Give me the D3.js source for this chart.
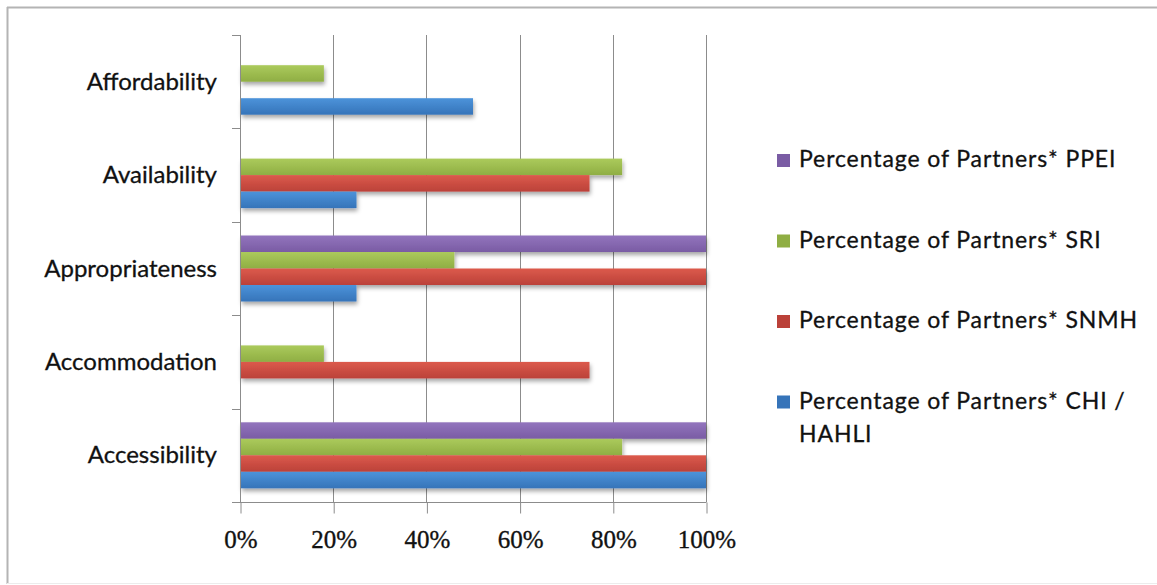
<!DOCTYPE html>
<html>
<head>
<meta charset="utf-8">
<script src="https://cdn.jsdelivr.net/npm/d3@7"></script>
<style>
  html, body { margin: 0; padding: 0; background: #fff; }
  svg { display: block; }
</style>
</head>
<body>
<svg id="chart" width="1157" height="585"></svg>
<script>
// Dimensions of access: categories listed top to bottom
const categories = ["Affordability", "Availability", "Appropriateness", "Accommodation", "Accessibility"];

// Series, in stacking order inside each category group (top to bottom)
const seriesNames = [
  "Percentage of Partners* PPEI",
  "Percentage of Partners* SRI",
  "Percentage of Partners* SNMH",
  "Percentage of Partners* CHI / HAHLI"
];

// Percent values per series, in the same order as categories
const ppeiValues = [0, 0, 100, 0, 100];
const sriValues  = [18, 82, 46, 18, 82];
const snmhValues = [0, 75, 100, 75, 100];
const chiValues  = [50, 25, 25, 0, 100];

const xTicks = [0, 20, 40, 60, 80, 100];

const seriesValues = [ppeiValues, sriValues, snmhValues, chiValues];
const seriesColors = [
  ["#9274bd", "#7a5ca4"],
  ["#abca5c", "#8fae43"],
  ["#dc5a4c", "#bb4139"],
  ["#4c93da", "#3674b9"]
];

const svg = d3.select("#chart");
const defs = svg.append("defs");

seriesColors.forEach((c, i) => {
  const g = defs.append("linearGradient")
    .attr("id", "grad" + i).attr("x1", 0).attr("y1", 0).attr("x2", 0).attr("y2", 1);
  g.append("stop").attr("offset", "0%").attr("stop-color", c[0]);
  g.append("stop").attr("offset", "100%").attr("stop-color", c[1]);
});

const shadow = defs.append("filter").attr("id", "barShadow")
  .attr("x", "-5%").attr("y", "-30%").attr("width", "110%").attr("height", "190%");
shadow.append("feDropShadow")
  .attr("dx", 1).attr("dy", 3).attr("stdDeviation", 2)
  .attr("flood-color", "#000").attr("flood-opacity", 0.35);

// Chart frame
svg.append("line").attr("x1", 7).attr("x2", 1157).attr("y1", 7.5).attr("y2", 7.5)
  .attr("stroke", "#b4b4b4").attr("stroke-width", 2);
svg.append("line").attr("x1", 7.5).attr("x2", 7.5).attr("y1", 7).attr("y2", 584)
  .attr("stroke", "#b4b4b4").attr("stroke-width", 2);
svg.append("line").attr("x1", 7).attr("x2", 1157).attr("y1", 583.5).attr("y2", 583.5)
  .attr("stroke", "#ececec").attr("stroke-width", 1);

const plot = { left: 240, right: 706, top: 35, bottom: 502 };

const x = d3.scaleLinear().domain([0, 100]).range([plot.left, plot.right]);
const y = d3.scaleBand().domain(categories).range([plot.top, plot.bottom]).padding(0);
const ySeries = d3.scaleBand().domain(seriesNames).range([0, y.bandwidth()])
  .paddingInner(0).paddingOuter(0.83);

// Vertical gridlines
svg.append("g").selectAll("line").data(xTicks.filter(t => t > 0)).join("line")
  .attr("x1", d => Math.round(x(d)) + 0.5).attr("x2", d => Math.round(x(d)) + 0.5)
  .attr("y1", plot.top).attr("y2", plot.bottom)
  .attr("stroke", "#8c8c8c").attr("stroke-width", 1);

// Bars
const barData = [];
seriesNames.forEach((s, si) => {
  categories.forEach((c, ci) => {
    const v = seriesValues[si][ci];
    if (v > 0) barData.push({ series: s, si, category: c, value: v });
  });
});

svg.append("g").attr("filter", "url(#barShadow)")
  .selectAll("rect").data(barData).join("rect")
  .attr("x", x(0) + 1)
  .attr("y", d => y(d.category) + ySeries(d.series))
  .attr("width", d => x(d.value) - x(0) - 1)
  .attr("height", ySeries.bandwidth())
  .attr("fill", d => "url(#grad" + d.si + ")");

// Bottom axis
const xAxis = d3.axisBottom(x).tickValues(xTicks).tickFormat(d => d + "%")
  .tickSizeInner(11).tickSizeOuter(0).tickPadding(16);
const gx = svg.append("g").attr("transform", `translate(0.5,${plot.bottom + 0.5})`).call(xAxis);
gx.select(".domain").attr("stroke", "#8c8c8c").attr("d", `M${plot.left - 8},0H${plot.right}`);
gx.selectAll(".tick line").attr("stroke", "#8c8c8c");
gx.selectAll(".tick text")
  .attr("font-family", "'Liberation Serif', serif")
  .attr("font-size", 25).attr("fill", "#111")
  .attr("stroke", "#111").attr("stroke-width", 0.35)
  .attr("dy", "0.72em");

// Left axis with ticks at category boundaries
const boundaries = categories.map(c => y(c)).concat([plot.bottom]);
svg.append("line")
  .attr("x1", plot.left + 0.5).attr("x2", plot.left + 0.5)
  .attr("y1", plot.top).attr("y2", plot.bottom + 1)
  .attr("stroke", "#8c8c8c");
svg.append("g").selectAll("line").data(boundaries).join("line")
  .attr("x1", plot.left - 8).attr("x2", plot.left)
  .attr("y1", d => Math.round(d) + 0.5).attr("y2", d => Math.round(d) + 0.5)
  .attr("stroke", "#8c8c8c");

svg.append("g").selectAll("text").data(categories).join("text")
  .attr("x", 217)
  .attr("y", d => y(d) + y.bandwidth() / 2 + 8)
  .attr("text-anchor", "end")
  .attr("font-family", "Lato, 'Open Sans', sans-serif")
  .attr("font-size", 24)
  .attr("fill", "#111")
  .attr("stroke", "#111").attr("stroke-width", 0.3)
  .text(d => d);

// Legend
const legendRows = [
  { name: seriesNames[0], lines: ["Percentage of Partners* PPEI"] },
  { name: seriesNames[1], lines: ["Percentage of Partners* SRI"] },
  { name: seriesNames[2], lines: ["Percentage of Partners* SNMH"] },
  { name: seriesNames[3], lines: ["Percentage of Partners* CHI /", "HAHLI"] }
];
const legend = svg.append("g").attr("transform", "translate(777,167)");
const rows = legend.selectAll("g").data(legendRows).join("g")
  .attr("transform", (d, i) => `translate(0,${i * 80.5})`);
rows.append("rect").attr("x", 0).attr("y", -13).attr("width", 13).attr("height", 13)
  .attr("fill", (d, i) => seriesColors[i][1]);
rows.append("text")
  .attr("x", 22).attr("y", 0)
  .attr("font-family", "Lato, 'Open Sans', sans-serif")
  .attr("font-size", 23)
  .attr("letter-spacing", 0.9)
  .attr("fill", "#111")
  .attr("stroke", "#111").attr("stroke-width", 0.3)
  .selectAll("tspan").data(d => d.lines).join("tspan")
  .attr("x", 22).attr("dy", (d, i) => i === 0 ? 0 : 33)
  .text(d => d);
</script>
</body>
</html>
